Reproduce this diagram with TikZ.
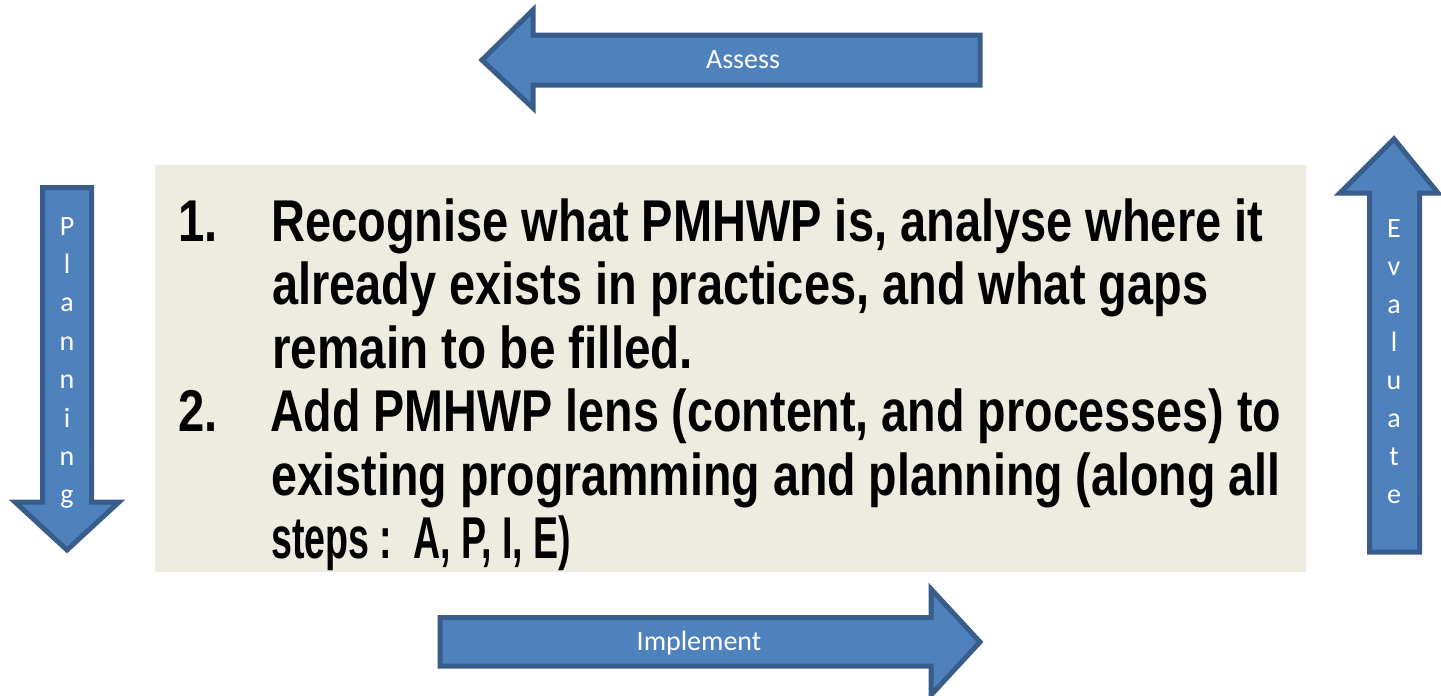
\documentclass[tikz,border=0pt]{standalone}
\usepackage{fontspec}
\setmainfont{Liberation Sans}
\newfontfamily\lblfont{Carlito}
\newfontfamily\bodyfont[FakeStretch=0.8]{Liberation Sans}
\usepackage{graphicx}
\definecolor{arrowfill}{HTML}{4F81BD}
\definecolor{arrowline}{HTML}{385D8A}
\definecolor{boxfill}{HTML}{EEECE1}
\tikzset{
  bigarrow/.style={fill=arrowfill, draw=arrowline, line width=5pt, line join=miter},
  lbl/.style={text=white, font=\lblfont\fontsize{28}{30}\selectfont, inner sep=0pt, anchor=base},
  bodyline/.style={anchor=base west, inner sep=0pt, font=\bodyfont\bfseries\fontsize{59}{63}\selectfont, text=black},
}
\begin{document}
\begin{tikzpicture}[x=1pt, y=-1pt]
\useasboundingbox (0,0) rectangle (1441,696);
% central box
\fill[boxfill] (155,165) rectangle (1306,572);
\node[inner sep=0pt] (box) at (730.5,368.5) {};
% Assess arrow (left)
\draw[bigarrow] (482,60) -- (533,10) -- (533,35) -- (980,35) -- (980,85) -- (533,85) -- (533,108) -- cycle;
\node[lbl] (assess) at (743,68) {Assess};
% Implement arrow (right)
\draw[bigarrow] (440,617.5) -- (931,617.5) -- (931,589) -- (980,642) -- (931,695) -- (931,666) -- (440,666) -- cycle;
\node[lbl] (implement) at (699,650) {Implement};
% Planning arrow (down)
\draw[bigarrow] (42.5,187.5) -- (91.5,187.5) -- (91.5,502) -- (119,502) -- (67,550) -- (15,502) -- (42.5,502) -- cycle;
\foreach \c [count=\i from 0] in {P,l,a,n,n,i,n,g}
  \node[lbl] (plan\i) at (67,235+38.4*\i) {\c};
% Evaluate arrow (up)
\draw[bigarrow] (1394,139) -- (1438,193) -- (1419.5,193) -- (1419.5,552) -- (1369.5,552) -- (1369.5,193) -- (1340,193) -- cycle;
\foreach \c [count=\i from 0] in {E,v,a,l,u,a,t,e}
  \node[lbl] (eval\i) at (1394,237+38*\i) {\c};
% body text
\node[bodyline] (n1) at (178,241.5) {1.};
\node[bodyline] (l1) at (271,241.5) {\resizebox{992pt}{\height}{Recognise what PMHWP is, analyse where it}};
\node[bodyline] (l2) at (272,304.9) {\resizebox{936pt}{\height}{already exists in practices, and what gaps}};
\node[bodyline] (l3) at (272,368.3) {\resizebox{421pt}{\height}{remain to be filled.}};
\node[bodyline] (n2) at (178,431.7) {2.};
\node[bodyline] (l4) at (270,431.7) {\resizebox{1011pt}{\height}{Add PMHWP lens (content, and processes) to}};
\node[bodyline] (l5) at (271,495.1) {\resizebox{1009pt}{\height}{existing programming and planning (along all}};
\node[bodyline] (l6) at (271,558.5) {\resizebox{300pt}{\height}{steps :\ \ A, P, I, E)}};
\end{tikzpicture}
\end{document}
